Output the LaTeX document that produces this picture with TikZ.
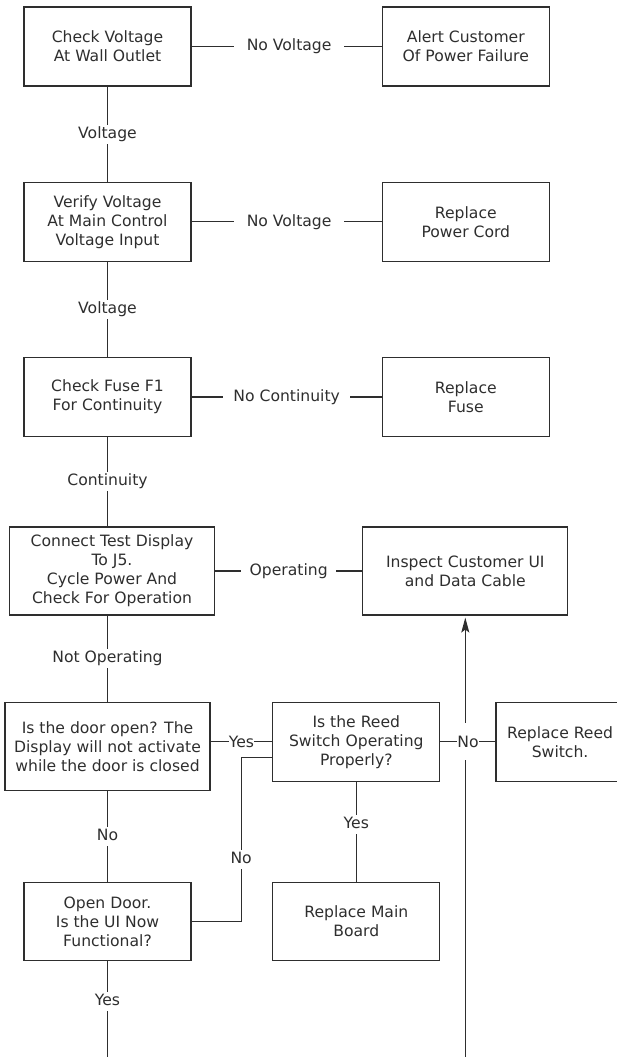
\documentclass[tikz,border=0pt]{standalone}
\usepackage{fontspec}
\setmainfont{DejaVu Sans}
\usepackage{xcolor}
\usepackage{tikz}
\usetikzlibrary{positioning,arrows.meta}
\definecolor{ink}{HTML}{2E2E2E}

\begin{document}
\begin{tikzpicture}[
	x=1pt,y=-1pt,
	>={Stealth[length=15pt,width=8pt,inset=3pt]},
	font=\fontsize{15.6}{19}\selectfont,
	color=ink,
	line width=1.3pt,
	state/.style={
		rectangle,
		draw,
		align=center,
		inner sep=0pt,
		minimum width=167pt,
		minimum height=79pt
	},
	wide/.style={
		state,
		minimum width=205pt,
		minimum height=88pt
	},
	lbl/.style={fill=white,inner xsep=13pt,inner ysep=0pt},
	tag/.style={fill=white,inner sep=1.5pt,text height=12pt,text depth=4pt},
	tight/.style={fill=white,inner xsep=0pt,inner ysep=1pt},
	]
	
	\useasboundingbox (0,0) rectangle (616,1057);
	
	\node[state] (check) at (107.5,46.5) {Check Voltage\\At Wall Outlet};
	\node[state] (alert) [right=190pt of check] {Alert Customer\\Of Power Failure};
	\node[state] (verify) [below=95pt of check] {Verify Voltage\\At Main Control\\Voltage Input};
	\node[state] (cord) [right=190pt of verify] {Replace\\Power Cord};
	\node[state] (fuse) [below=95pt of verify] {Check Fuse F1\\For Continuity};
	\node[state] (fusebox) [right=190pt of fuse] {Replace\\Fuse};
	\node[wide] (test) [below=89pt of fuse,xshift=4.5pt] {Connect Test Display\\To J5.\\Cycle Power And\\Check For Operation};
	\node[wide] (inspect) [right=147pt of test] {Inspect Customer UI\\and Data Cable};
	\node[wide] (door) [below=86pt of test,xshift=-4.5pt] {Is the door open? The\\Display will not activate\\while the door is closed};
	\node[state] (reed) [below right=0pt and 61.5pt of door.north east] {Is the Reed\\Switch Operating\\Properly?};
	\node[state,minimum width=128pt] (rreed) [right=55pt of reed] {Replace Reed\\Switch.};
	\node[state,minimum height=78pt] (open) [below=91pt of door] {Open Door.\\Is the UI Now\\Functional?};
	\node[state,minimum height=78pt] (board) [below=100pt of reed] {Replace Main\\Board};
	
	\coordinate (endL) at (open.south |- 0,1057);
	\coordinate (endR) at (inspect.south |- 0,1057);
	
	\draw (check) -- node[lbl,pos=0.513]{No Voltage} (alert);
	\draw (check) -- node[tag]{Voltage} (verify);
	\draw (verify) -- node[lbl,pos=0.513]{No Voltage} (cord);
	\draw (verify) -- node[tag]{Voltage} (fuse);
	\draw (fuse) -- node[lbl,inner xsep=10pt]{No Continuity} (fusebox);
	\draw (fuse) -- node[tag]{Continuity} (fuse.south |- test.north);
	\draw (test) -- node[lbl,inner xsep=8.5pt]{Operating} (inspect);
	\draw (door.north |- test.south) -- node[tag]{Not Operating} (door);
	\draw (door.east |- reed.west) -- node[tight]{Yes} (reed);
	\draw[->,shorten >=2pt] (endR) -- (inspect);
	\draw (reed) -- node[tight,inner ysep=12.5pt]{No} (rreed);
	\draw ([yshift=-15.5pt]reed.west) -- ++(-31pt,0) |- node[tag,pos=0.31]{No} (open.east);
	\draw (reed) -- node[tag,pos=0.43]{Yes} (board);
	\draw (door) -- node[tag]{No} (open);
	\draw (open) -- node[tag,pos=0.42]{Yes} (endL);
\end{tikzpicture}
\end{document}
